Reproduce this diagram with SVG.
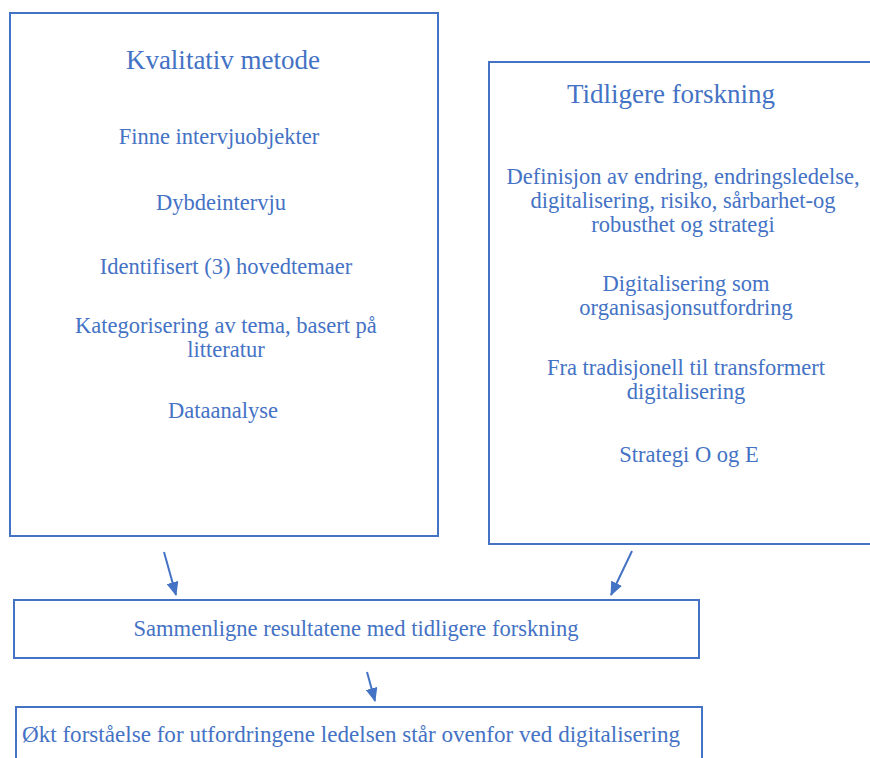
<svg xmlns="http://www.w3.org/2000/svg" width="870" height="758" viewBox="0 0 870 758">
<defs>
<style>
.box{fill:#fff;stroke:#4472C4;stroke-width:2}
.t{font-family:"Liberation Serif","Times New Roman",serif;fill:#4472C4;text-anchor:middle}
.h{font-size:27px}
.b{font-size:22.5px}
.c{stroke:#4472C4;stroke-width:2;fill:none}
</style>
<marker id="ah" viewBox="0 0 14 12" refX="13" refY="6" markerWidth="14" markerHeight="12" markerUnits="userSpaceOnUse" orient="auto">
<path d="M0,0 L14,6 L0,12 Z" fill="#4472C4"/>
</marker>
</defs>
<rect width="870" height="758" fill="#fff"/>
<g id="kvalitativ">
<rect class="box" x="10" y="13" width="428" height="523"/>
<text class="t h" x="223" y="69">Kvalitativ metode</text>
<text class="t b" x="219" y="144">Finne intervjuobjekter</text>
<text class="t b" x="221" y="210">Dybdeintervju</text>
<text class="t b" x="226" y="274">Identifisert (3) hovedtemaer</text>
<text class="t b" x="226" y="333">Kategorisering av tema, basert på</text>
<text class="t b" x="226" y="357">litteratur</text>
<text class="t b" x="223" y="418">Dataanalyse</text>
</g>
<g id="tidligere">
<rect class="box" x="489" y="62" width="400" height="482"/>
<text class="t h" x="671" y="103">Tidligere forskning</text>
<text class="t b" x="683" y="184">Definisjon av endring, endringsledelse,</text>
<text class="t b" x="683" y="208">digitalisering, risiko, sårbarhet-og</text>
<text class="t b" x="683" y="232">robusthet og strategi</text>
<text class="t b" x="686" y="291">Digitalisering som</text>
<text class="t b" x="686" y="315">organisasjonsutfordring</text>
<text class="t b" x="686" y="375">Fra tradisjonell til transformert</text>
<text class="t b" x="686" y="399">digitalisering</text>
<text class="t b" x="689" y="462">Strategi O og E</text>
</g>
<g id="sammenligne">
<rect class="box" x="14" y="600" width="685" height="58"/>
<text class="t b" x="356" y="636" textLength="445" lengthAdjust="spacingAndGlyphs">Sammenligne resultatene med tidligere forskning</text>
</g>
<g id="forstaelse">
<rect class="box" x="16" y="707" width="686" height="70"/>
<text class="t b" x="351" y="742" textLength="658" lengthAdjust="spacingAndGlyphs">Økt forståelse for utfordringene ledelsen står ovenfor ved digitalisering</text>
</g>
<g id="connectors">
<line class="c" x1="164" y1="552" x2="176" y2="595" marker-end="url(#ah)"/>
<line class="c" x1="632" y1="551" x2="611" y2="595" marker-end="url(#ah)"/>
<line class="c" x1="367" y1="672" x2="375" y2="701" marker-end="url(#ah)"/>
</g>
</svg>
